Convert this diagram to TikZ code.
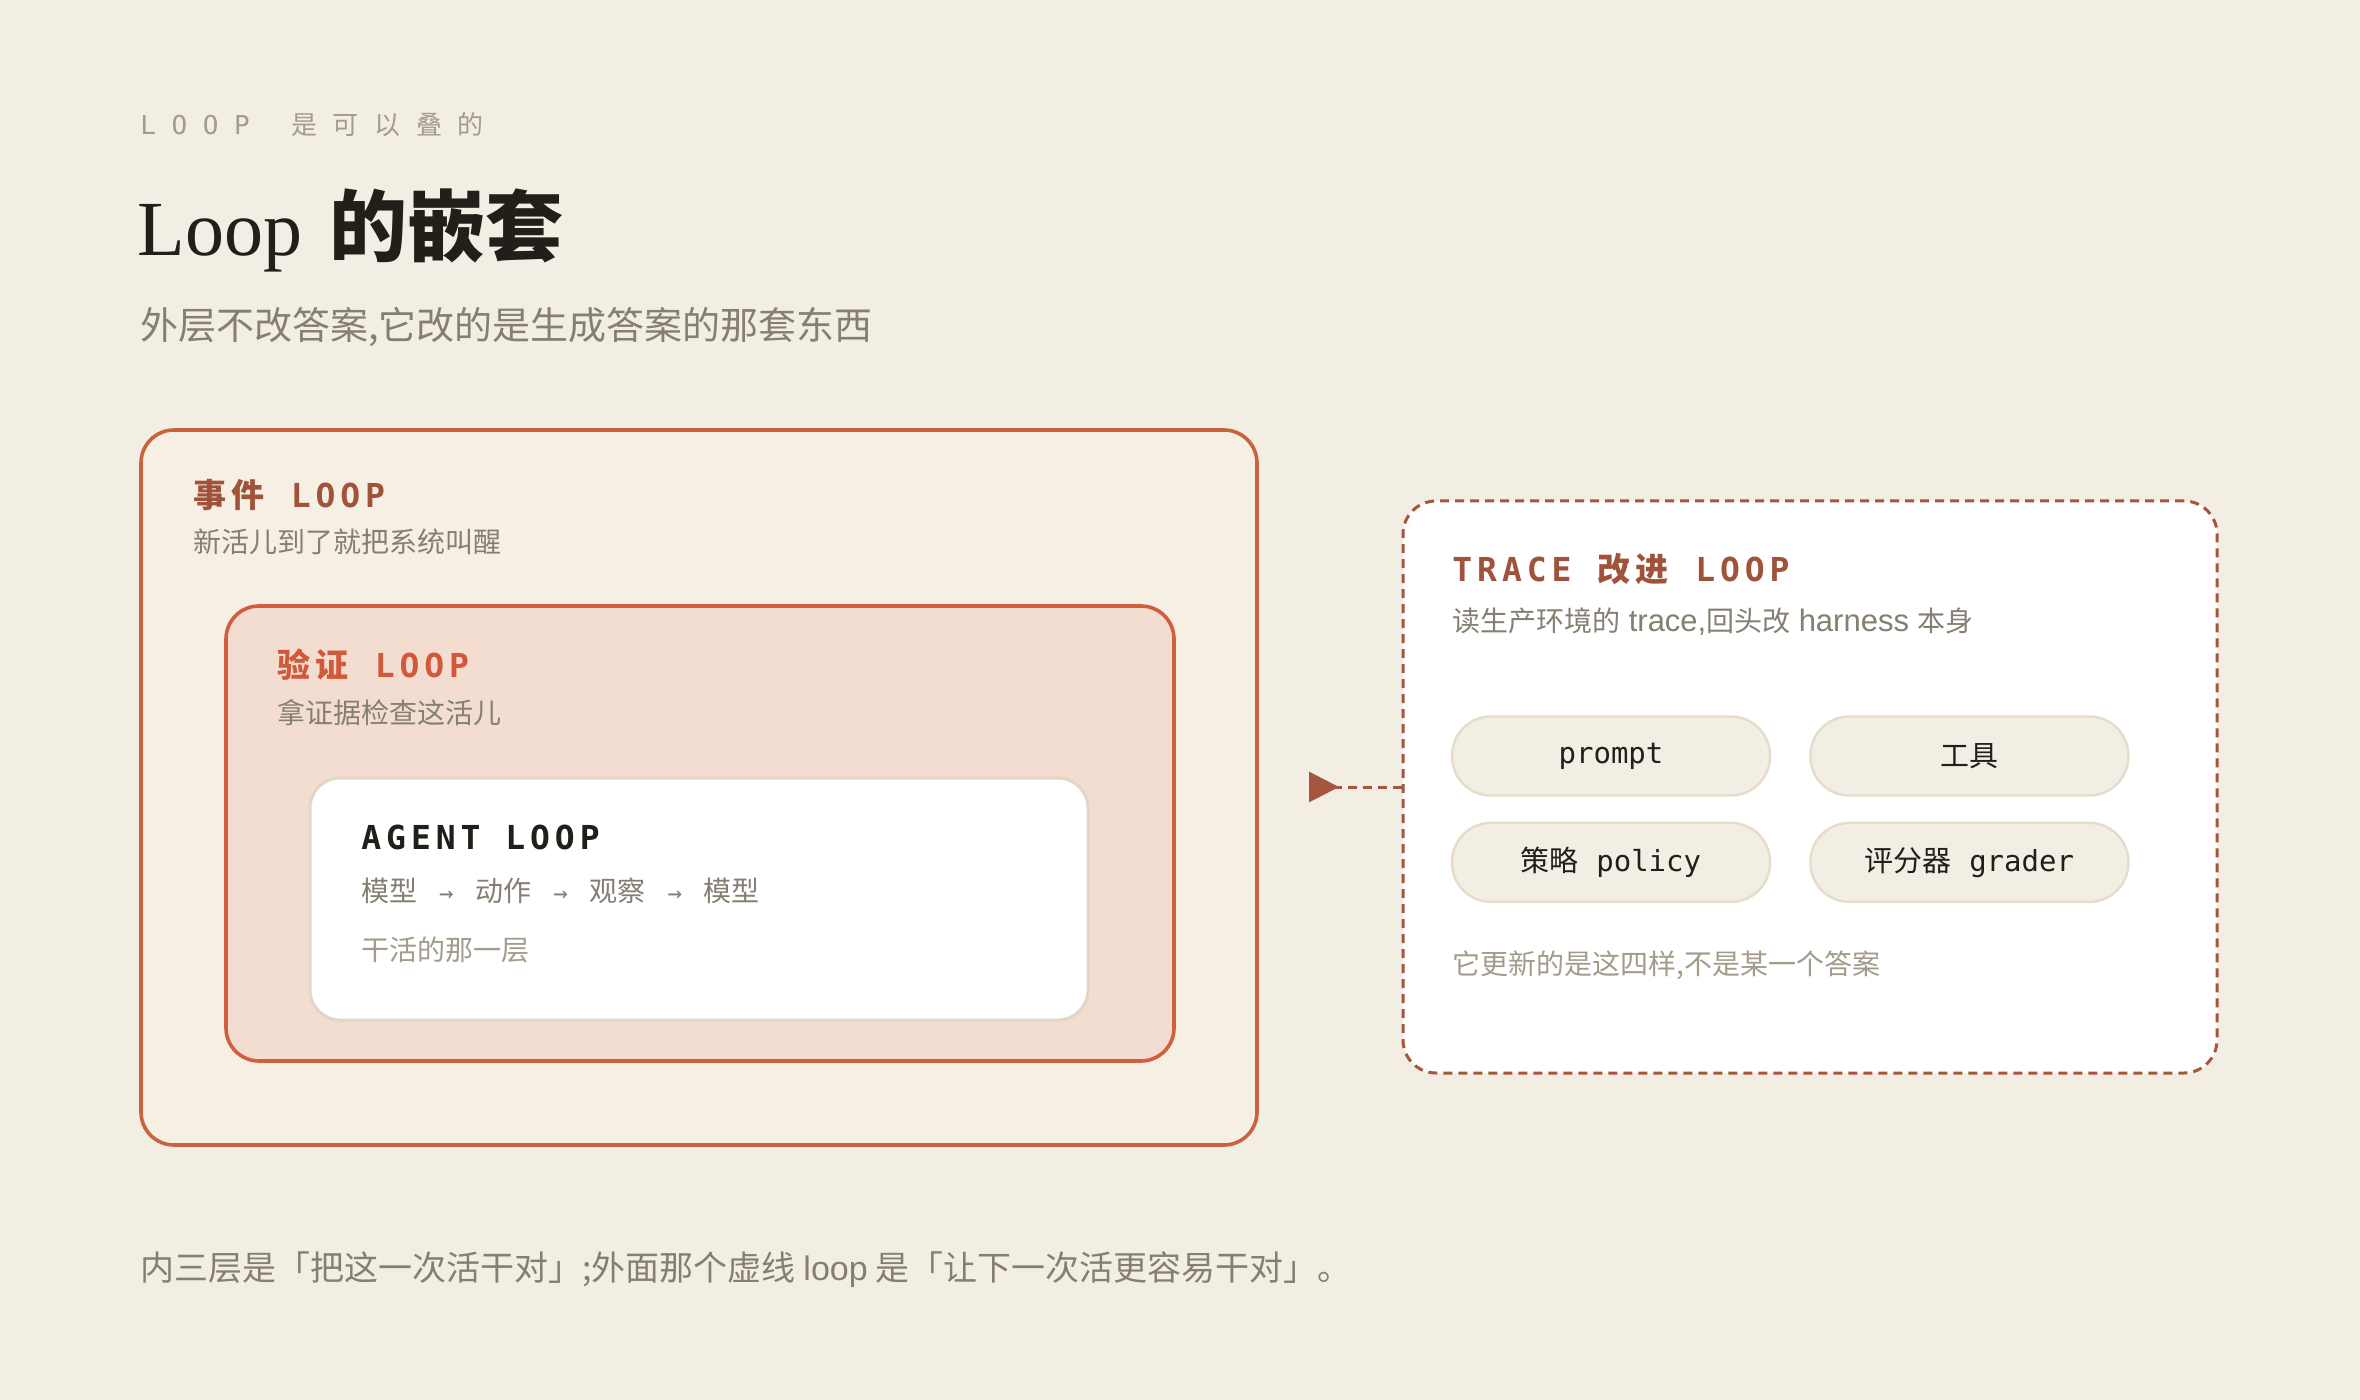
\documentclass[tikz,border=0pt]{standalone}
\usepackage{fontspec}
\setmainfont{Noto Sans CJK SC}
\newfontfamily\cjkfont{Noto Sans CJK SC}
\newfontfamily\cjkwide{Noto Sans CJK SC}[LetterSpace=15]
\newfontfamily\cjkhead{Noto Sans CJK SC}[LetterSpace=60]
\newfontfamily\monofont{DejaVu Sans Mono}
\newfontfamily\monowide{DejaVu Sans Mono}[LetterSpace=15]
\newfontfamily\monohead{DejaVu Sans Mono}[LetterSpace=60]
\newfontfamily\seriffont{Liberation Serif}
\newfontfamily\latinfont{Liberation Sans}
\usetikzlibrary{positioning,fit,arrows.meta}

\definecolor{bgcol}{HTML}{F3EEE3}
\definecolor{eventfill}{HTML}{F6EFE4}
\definecolor{eventline}{HTML}{C9633F}
\definecolor{checkfill}{HTML}{F2DDD0}
\definecolor{checkline}{HTML}{D35E3E}
\definecolor{agentline}{HTML}{E0D7C7}
\definecolor{traceline}{HTML}{A5563D}
\definecolor{rust}{HTML}{A0533A}
\definecolor{brick}{HTML}{D2583A}
\definecolor{ink}{HTML}{221E19}
\definecolor{muted}{HTML}{857F73}
\definecolor{faint}{HTML}{A39B8B}
\definecolor{pillfill}{HTML}{F3EEE3}
\definecolor{pillline}{HTML}{E5DCCB}

\tikzstyle{loopbox} = [rounded corners=16.5pt, line width=1.8pt, inner sep=0pt]
\tikzstyle{txt} = [anchor=west, inner sep=0pt]
\tikzstyle{boxtitle} = [txt, font=\fontsize{16.5}{19}\selectfont\bfseries]
\tikzstyle{boxsub} = [txt, text=muted, font=\fontsize{14}{17}\selectfont]
\tikzstyle{pill} = [draw=pillline, fill=pillfill, line width=1.2pt,
    rounded corners=19.5pt, minimum width=159pt, minimum height=39.5pt,
    font=\fontsize{14.5}{17}\selectfont\monofont, text=ink]
\tikzstyle{feedback} = [draw=traceline, line width=1.5pt, dash pattern=on 4.5pt off 3pt,
    -{Triangle[reversed, length=15pt, width=15pt, fill=traceline]}]

\newcommand\wgap{\hspace{0.8em}}
\newcommand\flowto{\hspace{0.78em}{\monofont\fontsize{12}{14}\selectfont →}\hspace{0.78em}}
\newcommand\latinword[1]{{\latinfont\fontsize{15.5}{17}\selectfont #1}}

\begin{document}
\begin{tikzpicture}[x=0.5pt, y=-0.5pt]
\fill[bgcol] (0,0) rectangle (2360,1400);

% heading
\node[txt, text=faint, font=\fontsize{13}{16}\selectfont] (kicker) at (140,125)
    {{\monohead LOOP}\hspace{1.6em}{\cjkhead 是可以叠的}};
\node[txt, text=ink, font=\fontsize{39}{46}\selectfont] (title) at (137,230)
    {{\seriffont Loop}\hspace{0.35em}{\cjkfont\bfseries 的嵌套}};
\node[txt, text=muted, font=\fontsize{19}{23}\selectfont] (lead) at (140,327)
    {外层不改答案,它改的是生成答案的那套东西};

% nested loops
\node[loopbox, draw=eventline, fill=eventfill, fit={(141,430) (1257,1145)}] (event) {};
\node[boxtitle, text=rust] (eventtitle) at (193,495) {{\cjkwide 事件}\wgap{\monowide LOOP}};
\node[boxsub] (eventsub) at (193,542) {新活儿到了就把系统叫醒};

\node[loopbox, draw=checkline, fill=checkfill, fit={(226,606) (1174,1061)}] (check) {};
\node[boxtitle, text=brick] (checktitle) at (277,665) {{\cjkwide 验证}\wgap{\monowide LOOP}};
\node[boxsub] (checksub) at (277,713) {拿证据检查这活儿};

\node[loopbox, draw=agentline, fill=white, line width=1.5pt, rounded corners=15pt,
    fit={(310,778) (1088,1020)}] (agent) {};
\node[boxtitle, text=ink] (agenttitle) at (361,837) {\monowide AGENT LOOP};
\node[boxsub] (agentflow) at (361,891) {模型\flowto 动作\flowto 观察\flowto 模型};
\node[boxsub, text=faint] (agentsub) at (361,950) {干活的那一层};

% trace loop
\node[loopbox, draw=traceline, fill=white, line width=1.5pt, dash pattern=on 4.5pt off 3pt,
    fit={(1403,501) (2217,1073)}] (trace) {};
\node[boxtitle, text=rust] (tracetitle) at (1452,569)
    {{\monowide TRACE}\wgap{\cjkwide 改进}\wgap{\monowide LOOP}};
\node[boxsub] (tracesub) at (1452,622)
    {读生产环境的\hspace{0.3em}\latinword{trace,}回头改\hspace{0.3em}\latinword{harness}\hspace{0.3em}本身};

\node[pill] (prompt) at (1611,756) {prompt};
\node[pill, right=19pt of prompt] (tools) {{\cjkfont 工具}};
\node[pill, below=12.5pt of prompt] (policy) {{\cjkfont 策略} policy};
\node[pill, right=19pt of policy] (grader) {{\cjkfont 评分器} grader};

\node[boxsub, text=faint] (tracenote) at (1452,965) {它更新的是这四样,不是某一个答案};

% feedback arrow
\coordinate (tip) at (1309,787);
\draw[feedback] (trace.west) -- (tip);

% footnote
\node[txt, text=muted, font=\fontsize{17}{20}\selectfont] (footer) at (140,1270)
    {内三层是「把这一次活干对」;外面那个虚线 {\latinfont loop} 是「让下一次活更容易干对」。};
\end{tikzpicture}
\end{document}
